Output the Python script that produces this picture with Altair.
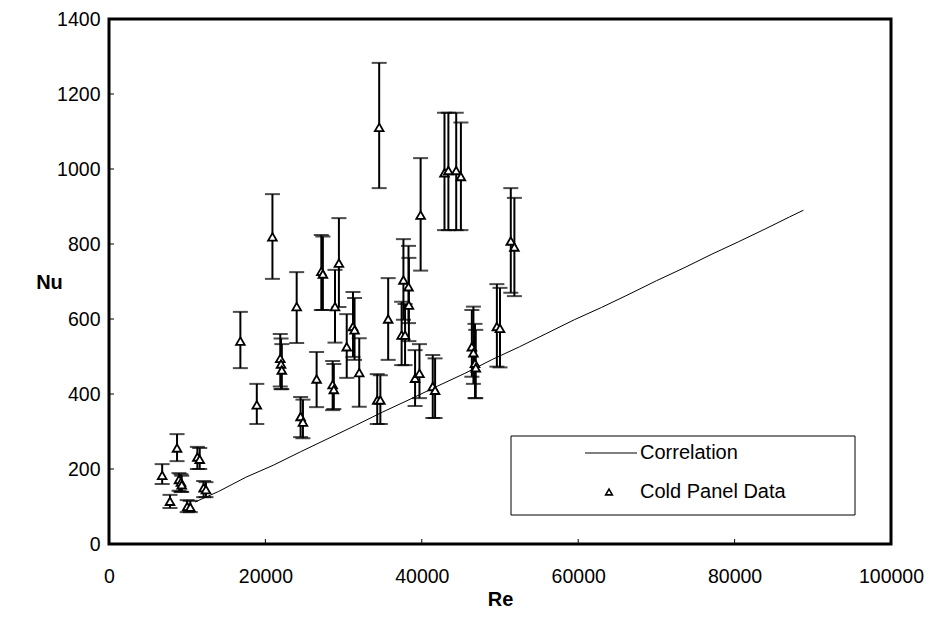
import altair as alt
import pandas as pd

# Cold panel data: Reynolds number, Nusselt number, error-bar low / high
re_vals = [6800, 7800, 8700, 8950, 9200, 9300, 10000, 10400, 11300, 11600, 12100, 12400,
           16800, 18900, 20900, 21900, 22000, 22100, 24000, 24500, 24800, 26550, 27150, 27350,
           28600, 28750, 28900, 29400, 30400, 31200, 31400, 32000, 34300, 34700, 34550, 35700,
           37420, 37650, 37860, 38300, 38350, 39140, 39700, 39850, 41400, 41700,
           42900, 43400, 44400, 45000, 46400, 46600, 46800, 46900, 49600, 50000, 51380, 51840]
nu_vals = [183, 114, 256, 172, 165, 158, 100, 98, 232, 226, 150, 145,
           541, 371, 819, 495, 480, 464, 633, 340, 325, 440, 727, 720,
           425, 412, 633, 749, 526, 580, 571, 457, 384, 384, 1111, 600,
           557, 704, 557, 686, 637, 442, 455, 877, 420, 410,
           990, 996, 996, 980, 526, 510, 482, 470, 580, 575, 808, 792]
nu_lo = [160, 96, 221, 142, 139, 139, 85, 85, 200, 200, 125, 125,
         469, 320, 707, 420, 413, 413, 536, 285, 282, 365, 624, 624,
         357, 360, 537, 632, 443, 499, 491, 366, 320, 320, 949, 491,
         477, 598, 477, 589, 541, 368, 389, 729, 336, 336,
         837, 837, 837, 837, 446, 427, 389, 389, 473, 471, 670, 661]
nu_hi = [213, 131, 293, 189, 186, 182, 117, 115, 259, 256, 168, 165,
         619, 427, 933, 560, 548, 533, 725, 392, 385, 512, 824, 820,
         488, 480, 731, 869, 613, 672, 656, 549, 453, 450, 1283, 709,
         646, 813, 640, 795, 763, 517, 533, 1029, 504, 495,
         1150, 1150, 1150, 1124, 624, 633, 587, 571, 693, 683, 949, 923]

# Correlation curve
corr_re = [11000, 14000, 17500, 21000, 24500, 28000, 31500, 35000, 38500, 42000, 45500, 49000,
           52500, 56000, 59500, 63000, 66500, 70000, 73500, 77000, 80500, 84000, 87000, 88800]
corr_nu = [112, 140, 178, 210, 246, 281, 316, 352, 386, 421, 455, 492,
           526, 562, 598, 631, 666, 702, 736, 772, 806, 841, 872, 890]

x_ticks = [0, 20000, 40000, 60000, 80000, 100000]
y_ticks = [0, 200, 400, 600, 800, 1000, 1200, 1400]

df = pd.DataFrame({"Re": re_vals, "Nu": nu_vals, "lo": nu_lo, "hi": nu_hi})
corr = pd.DataFrame({"Re": corr_re, "Nu": corr_nu})

FONT = "Liberation Sans"
xs = alt.Scale(domain=[0, 100000], nice=False, zero=False)
ys = alt.Scale(domain=[0, 1400], nice=False, zero=False)

xaxis = alt.Axis(title="Re", values=x_ticks, format="d", domain=False, ticks=False, grid=False,
                 labelFlush=False, labelOverlap=False, labelPadding=23, labelFontSize=19.5,
                 labelFont=FONT, labelColor="black", titleFont=FONT, titleFontSize=20,
                 titleFontWeight="bold", titleColor="black", titlePadding=4)
yaxis = alt.Axis(title="Nu", values=y_ticks, format="d", domain=False, ticks=False, grid=False,
                 labelFlush=False, labelOverlap=False, labelPadding=9, labelFontSize=19.5,
                 labelFont=FONT, labelColor="black", titleFont=FONT, titleFontSize=20,
                 titleFontWeight="bold", titleColor="black", titleAngle=0, titleX=-60,
                 titleY=263, titleAlign="center", titleBaseline="middle")

stems = alt.Chart(df).mark_rule(color="black", strokeWidth=2).encode(
    x=alt.X("Re:Q", scale=xs, axis=xaxis),
    y=alt.Y("lo:Q", scale=ys, axis=yaxis),
    y2="hi:Q")
caps_lo = alt.Chart(df).mark_tick(color="black", orient="horizontal", size=15, thickness=2).encode(
    x=alt.X("Re:Q", scale=xs, axis=xaxis),
    y=alt.Y("lo:Q", scale=ys, axis=yaxis))
caps_hi = alt.Chart(df).mark_tick(color="black", orient="horizontal", size=15, thickness=2).encode(
    x=alt.X("Re:Q", scale=xs, axis=xaxis),
    y=alt.Y("hi:Q", scale=ys, axis=yaxis))
pts = alt.Chart(df).mark_point(shape="triangle-up", filled=True, fill="white", stroke="black",
                               strokeWidth=1.8, size=75, opacity=1).encode(
    x=alt.X("Re:Q", scale=xs, axis=xaxis),
    y=alt.Y("Nu:Q", scale=ys, axis=yaxis))
line = alt.Chart(corr).mark_line(color="black", strokeWidth=1).encode(
    x=alt.X("Re:Q", scale=xs, axis=xaxis),
    y=alt.Y("Nu:Q", scale=ys, axis=yaxis))

xt = alt.Chart(pd.DataFrame({"v": x_ticks[1:-1]})).mark_rule(color="black", strokeWidth=1).encode(
    x=alt.X("v:Q", scale=xs, axis=xaxis), y=alt.value(525), y2=alt.value(520))
yt = alt.Chart(pd.DataFrame({"v": y_ticks[1:-1]})).mark_rule(color="black", strokeWidth=1).encode(
    y=alt.Y("v:Q", scale=ys, axis=yaxis), x=alt.value(0), x2=alt.value(5))

one = pd.DataFrame({"a": [0]})
leg_box = alt.Chart(one).mark_rect(fill="white", stroke="black", strokeWidth=1).encode(
    x=alt.value(402), x2=alt.value(746), y=alt.value(417), y2=alt.value(496))
leg_line = alt.Chart(one).mark_rule(color="black", strokeWidth=1).encode(
    x=alt.value(476), x2=alt.value(528), y=alt.value(434))
leg_pt = alt.Chart(one).mark_point(shape="triangle-up", filled=True, fill="white", stroke="black",
                                   strokeWidth=1.6, size=45, opacity=1).encode(
    x=alt.value(500), y=alt.value(473))
leg_t1 = alt.Chart(one).mark_text(align="left", baseline="middle", font=FONT, fontSize=20,
                                  color="black").encode(
    x=alt.value(531), y=alt.value(434), text=alt.value("Correlation"))
leg_t2 = alt.Chart(one).mark_text(align="left", baseline="middle", font=FONT, fontSize=20,
                                  color="black").encode(
    x=alt.value(531), y=alt.value(473), text=alt.value("Cold Panel Data"))

chart = alt.layer(stems, caps_lo, caps_hi, line, pts, xt, yt,
                  leg_box, leg_line, leg_pt, leg_t1, leg_t2).properties(
    width=782, height=525,
    padding={"left": 101, "top": 11, "right": 33, "bottom": 80},
    autosize=alt.AutoSizeParams(type="none"),
    background="white",
).configure_view(stroke="black", strokeWidth=3)

chart.save("out.html", embed_options={"renderer": "svg", "actions": False})
